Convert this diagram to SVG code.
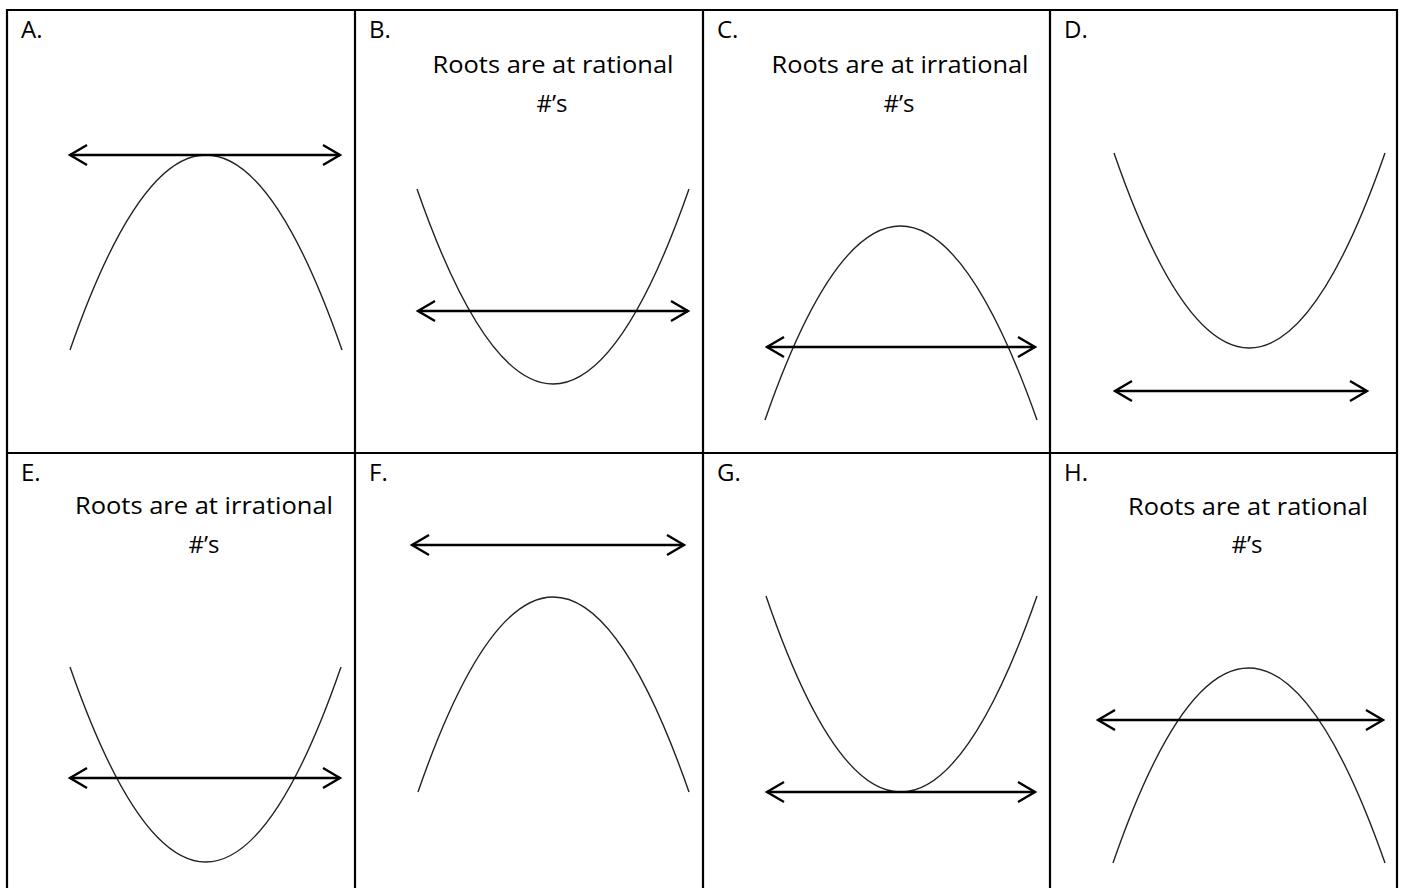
<svg xmlns="http://www.w3.org/2000/svg" width="1405" height="888" viewBox="0 0 1405 888">
<defs>
<marker id="ah" viewBox="-20 -12 22 24" refX="0" refY="0" markerWidth="22" markerHeight="24" markerUnits="userSpaceOnUse" orient="auto-start-reverse" overflow="visible">
<path d="M-17,-10 L0,0 L-17,10" fill="none" stroke="#000" stroke-width="2.4" stroke-linejoin="miter"/>
</marker>
<style>
.grid{stroke:#000;stroke-width:2.2;fill:none}
.curve{fill:none;stroke:#222;stroke-width:1.4}
.axis{stroke:#000;stroke-width:2.4;fill:none;marker-start:url(#ah);marker-end:url(#ah)}
.lab{font-family:"Open Sans","Liberation Sans",sans-serif;font-size:24px;fill:#000}
.txt{font-family:"Open Sans","Liberation Sans",sans-serif;font-size:24px;fill:#000;text-anchor:middle}
</style>
</defs>
<rect width="1405" height="888" fill="#fff"/>
<g id="grid">
<line class="grid" x1="6" y1="10" x2="1398" y2="10"/>
<line class="grid" x1="6" y1="453" x2="1398" y2="453"/>
<line class="grid" x1="7" y1="9" x2="7" y2="888"/>
<line class="grid" x1="355" y1="9" x2="355" y2="888"/>
<line class="grid" x1="703" y1="9" x2="703" y2="888"/>
<line class="grid" x1="1050" y1="9" x2="1050" y2="888"/>
<line class="grid" x1="1397" y1="9" x2="1397" y2="888"/>
</g>
<g id="cellA">
<text class="lab" x="21" y="38">A.</text>
<path class="curve" d="M70,350 Q206,-40 342,350"/>
</g>
<g id="cellB">
<text class="lab" x="369" y="38">B.</text>
<text class="txt" x="553" y="73" textLength="241" lengthAdjust="spacingAndGlyphs">Roots are at rational</text>
<text class="txt" x="552" y="112">#’s</text>
<path class="curve" d="M417,189 Q553,579 689,189"/>
</g>
<g id="cellC">
<text class="lab" x="717" y="38">C.</text>
<text class="txt" x="900" y="73" textLength="257" lengthAdjust="spacingAndGlyphs">Roots are at irrational</text>
<text class="txt" x="899" y="112">#’s</text>
<path class="curve" d="M765,420 Q900,32 1037,420"/>
</g>
<g id="cellD">
<text class="lab" x="1064" y="38">D.</text>
<path class="curve" d="M1114,153 Q1249,543 1385,153"/>
</g>
<g id="cellE">
<text class="lab" x="21" y="481">E.</text>
<text class="txt" x="204" y="514" textLength="258" lengthAdjust="spacingAndGlyphs">Roots are at irrational</text>
<text class="txt" x="204" y="553">#’s</text>
<path class="curve" d="M70,667 Q206,1057 341,667"/>
</g>
<g id="cellF">
<text class="lab" x="369" y="481">F.</text>
<path class="curve" d="M418,792 Q553,402 689,792"/>
</g>
<g id="cellG">
<text class="lab" x="717" y="481">G.</text>
<path class="curve" d="M766,596 Q900,988 1037,596"/>
</g>
<g id="cellH">
<text class="lab" x="1064" y="481">H.</text>
<text class="txt" x="1248" y="515" textLength="240" lengthAdjust="spacingAndGlyphs">Roots are at rational</text>
<text class="txt" x="1247" y="553">#’s</text>
<path class="curve" d="M1113,863 Q1248,473 1385,863"/>
</g>
<g id="connectors">
<line class="axis" x1="70" y1="155" x2="340" y2="155"/>
<line class="axis" x1="418" y1="311" x2="688" y2="311"/>
<line class="axis" x1="767" y1="347" x2="1035" y2="347"/>
<line class="axis" x1="1115" y1="391" x2="1367" y2="391"/>
<line class="axis" x1="70" y1="778" x2="340" y2="778"/>
<line class="axis" x1="412" y1="545" x2="684" y2="545"/>
<line class="axis" x1="767" y1="792" x2="1035" y2="792"/>
<line class="axis" x1="1098" y1="720" x2="1383" y2="720"/>
</g>
</svg>
